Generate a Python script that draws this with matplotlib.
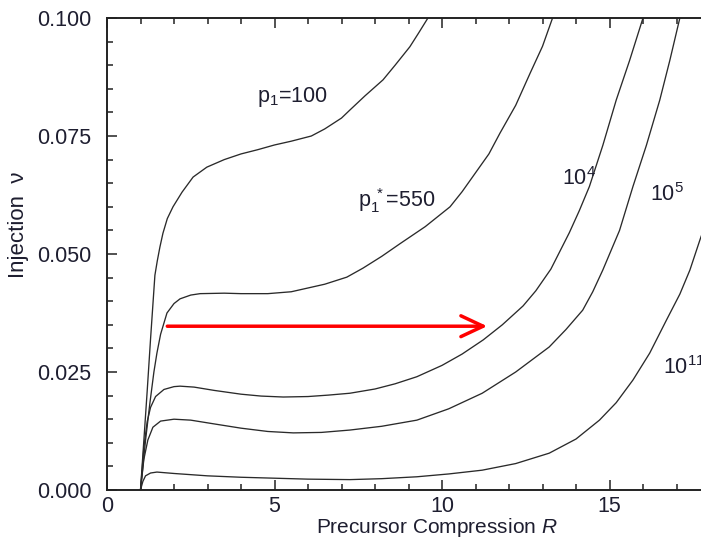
import matplotlib
matplotlib.use("Agg")
import matplotlib.pyplot as plt
from matplotlib.ticker import MultipleLocator, FormatStrFormatter

plt.rcParams['font.family'] = ['Liberation Sans', 'DejaVu Sans']
plt.rcParams['mathtext.fontset'] = 'custom'
plt.rcParams['mathtext.rm'] = 'Liberation Sans'
plt.rcParams['mathtext.it'] = 'Liberation Sans:italic'
plt.rcParams['mathtext.bf'] = 'Liberation Sans:bold'

# ---- data ----
r_p100 = [1.0, 1.1, 1.2, 1.3, 1.43, 1.5, 1.58, 1.67, 1.8, 1.97, 2.24, 2.57, 2.98, 3.5, 4.0, 4.5,
          5.0, 5.5, 6.1, 6.5, 7.0, 7.25, 7.7, 8.24, 8.6, 9.04, 9.3, 9.58]
v_p100 = [0.0, 0.0105, 0.021, 0.032, 0.0455, 0.0485, 0.0515, 0.0544, 0.0575, 0.060, 0.0631,
          0.0663, 0.0684, 0.0700, 0.0712, 0.0721, 0.0731, 0.0739, 0.0750, 0.0765, 0.0788,
          0.0805, 0.0835, 0.0869, 0.0900, 0.0939, 0.0968, 0.100]

r_p550 = [1.0, 1.15, 1.28, 1.4, 1.49, 1.6, 1.79, 2.0, 2.18, 2.5, 2.78, 3.5, 4.0, 4.8, 5.5,
          6.0, 6.5, 7.16, 7.64, 8.2, 8.75, 9.5, 10.24, 10.6, 11.0, 11.4, 11.73, 12.2, 12.63,
          13.0, 13.3]
v_p550 = [0.0, 0.0105, 0.0184, 0.025, 0.029, 0.033, 0.0375, 0.0395, 0.0405, 0.0413, 0.0416,
          0.0417, 0.0416, 0.0416, 0.0420, 0.0428, 0.0436, 0.0451, 0.0470, 0.0495, 0.0522,
          0.0558, 0.0600, 0.0632, 0.0672, 0.0712, 0.0756, 0.0815, 0.0883, 0.0940, 0.100]

r_1e4 = [1.0, 1.1, 1.2, 1.3, 1.45, 1.7, 2.0, 2.18, 2.6, 3.2, 4.0, 4.6, 5.26, 6.0, 6.6, 7.25,
         8.0, 8.6, 9.25, 10.0, 10.6, 11.23, 11.8, 12.42, 12.8, 13.25, 13.8, 14.1, 14.4, 14.8,
         15.2, 15.6, 16.0]
v_1e4 = [0.0, 0.009, 0.0145, 0.0175, 0.0198, 0.0213, 0.0219, 0.0220, 0.0218, 0.0211, 0.0203,
         0.0199, 0.0197, 0.0198, 0.0201, 0.0205, 0.0214, 0.0225, 0.0240, 0.0264, 0.0288,
         0.0318, 0.0350, 0.0390, 0.0422, 0.0468, 0.0545, 0.0592, 0.0643, 0.0730, 0.0826,
         0.0910, 0.100]

r_1e5 = [1.0, 1.1, 1.22, 1.37, 1.6, 2.0, 2.5, 3.2, 4.0, 4.8, 5.56, 6.4, 7.25, 8.2, 9.25,
         10.2, 11.2, 12.2, 13.2, 13.7, 14.2, 14.5, 14.8, 15.3, 15.7, 16.1, 16.5, 16.8, 17.1]
v_1e5 = [0.0, 0.0065, 0.0106, 0.0133, 0.0146, 0.0150, 0.0148, 0.0140, 0.0131, 0.0124, 0.0121,
         0.0122, 0.0127, 0.0135, 0.0148, 0.0172, 0.0205, 0.0250, 0.0303, 0.0340, 0.0381,
         0.0420, 0.0466, 0.0550, 0.0643, 0.0730, 0.0826, 0.0910, 0.100]

r_1e11 = [1.0, 1.07, 1.15, 1.3, 1.49, 2.0, 3.0, 4.0, 5.0, 6.0, 7.25, 8.2, 9.25, 10.2, 11.2,
          12.2, 13.2, 14.0, 14.7, 15.2, 15.7, 16.2, 16.7, 17.1, 17.4, 17.7, 18.0]
v_1e11 = [0.0, 0.0018, 0.0030, 0.0036, 0.0038, 0.0035, 0.0030, 0.0027, 0.0025, 0.0023, 0.0022,
          0.0024, 0.0028, 0.0034, 0.0042, 0.0056, 0.0078, 0.0108, 0.0148, 0.0185, 0.0233,
          0.0290, 0.0360, 0.0415, 0.0466, 0.0530, 0.0590]

curves = [(r_p100, v_p100), (r_p550, v_p550), (r_1e4, v_1e4), (r_1e5, v_1e5), (r_1e11, v_1e11)]

label_texts = [r"p$_1$=100", r"p$_1^{\ *}$=550", r"10$^4$", r"10$^5$", r"10$^{11}$"]
label_x = [4.48, 7.49, 13.58, 16.2, 16.6]
label_y = [0.0833, 0.0614, 0.0659, 0.0625, 0.0260]

arrow_x = [1.8, 11.35]
arrow_y = [0.0347, 0.0347]

x_ticks = [0, 5, 10, 15]
y_ticks = [0.0, 0.025, 0.05, 0.075, 0.1]

# ---- figure ----
W, H = 701, 539
fig = plt.figure(figsize=(W / 100, H / 100), dpi=100)
ax_left, ax_bottom, ax_right, ax_top = 107, 490, 777, 18
ax = fig.add_axes([ax_left / W, (H - ax_bottom) / H, (ax_right - ax_left) / W,
                   (ax_bottom - ax_top) / H])

line_col = '#2a2a2a'
for r, v in curves:
    ax.plot(r, v, color=line_col, lw=0.95, solid_capstyle='round', solid_joinstyle='round')

txt_col = '#1e1e30'
for t, x, y in zip(label_texts, label_x, label_y):
    ax.text(x, y, t, fontsize=15.5, color=txt_col, ha='left', va='center')

ax.annotate('', xy=(arrow_x[1], arrow_y[1]), xytext=(arrow_x[0], arrow_y[0]),
            arrowprops=dict(arrowstyle='->,head_length=1.6,head_width=0.75',
                            color='#ff0000', lw=2.5, shrinkA=0, shrinkB=0,
                            mutation_scale=10))

ax.set_xlim(0, 20)
ax.set_ylim(0, 0.1)
ax.set_xticks(x_ticks)
ax.set_yticks(y_ticks)
ax.xaxis.set_minor_locator(MultipleLocator(1))
ax.yaxis.set_minor_locator(MultipleLocator(0.005))
ax.yaxis.set_major_formatter(FormatStrFormatter('%.3f'))
ax.tick_params(which='both', direction='in', top=True, right=True, colors='#222222',
               labelcolor=txt_col, labelsize=15.5, width=1.1)
ax.tick_params(which='major', length=7)
ax.tick_params(which='minor', length=4.5)
ax.tick_params(axis='y', pad=11)
ax.tick_params(axis='x', pad=4)
for s in ax.spines.values():
    s.set_color('#222222')
    s.set_linewidth(1.4)

fig.text(437 / W, 1 - 533 / H, r"Precursor Compression $\mathit{R}$", fontsize=15,
         color=txt_col, ha='center', va='baseline')
fig.text(19 / W, 1 - 225 / H, "Injection  ν", fontsize=16, color=txt_col,
         ha='center', va='center', rotation=90)

fig.savefig('out.png', dpi=100)
